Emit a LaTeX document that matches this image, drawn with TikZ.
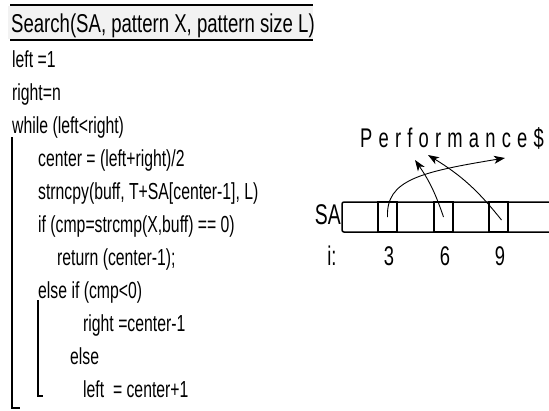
\documentclass[tikz,border=0pt]{standalone}
\usepackage{fontspec}
\setmainfont[FakeStretch=0.68]{Liberation Sans}
\newfontfamily\headfont[FakeStretch=0.72]{Liberation Sans}
\newfontfamily\spacedfont[FakeStretch=0.68,LetterSpace=23]{Liberation Sans}
\usetikzlibrary{arrows.meta}
\tikzset{
  code/.style={anchor=base west, inner sep=0pt, font=\fontsize{23.2}{28}\selectfont},
  lbl/.style={inner sep=0pt, font=\fontsize{27}{30}\selectfont},
  cell/.style={draw, line width=1.5pt, minimum width=19pt, minimum height=30pt, inner sep=0pt},
  ptr/.style={line width=0.9pt, -{Stealth[length=11pt,width=8pt,inset=3pt]}}
}

\begin{document}
\begin{tikzpicture}[x=1pt,y=-1pt]
\useasboundingbox (0,0) rectangle (549,410);
% heading
\fill[black!5] (8,6) rectangle (313,39);
\draw[line width=1.5pt] (10,5) -- (313,5);
\draw[line width=1.5pt] (10,40) -- (313,40);
\node[code, font=\headfont\fontsize{25.8}{28}\selectfont] (title) at (11,32) {Search(SA, pattern X, pattern size L)};
% code lines
\node[code] (l1) at (12,67) {left =1};
\node[code] (l2) at (12,100) {right=n};
\node[code] (l3) at (12,133) {while (left<right)};
\node[code] (l4) at (38,166) {center = (left+right)/2};
\node[code] (l5) at (38,199) {strncpy(buff, T+SA[center-1], L)};
\node[code] (l6) at (38,232) {if (cmp=strcmp(X,buff) == 0)};
\node[code] (l7) at (57,265) {return (center-1);};
\node[code] (l8) at (38,298) {else if (cmp<0)};
\node[code] (l9) at (83,331) {right =center-1};
\node[code] (l10) at (70,364) {else};
\node[code] (l11) at (83,397) {left~ = center+1};
% block brackets
\draw[line width=1.5pt] (12,137) -- (12,408) -- (20,408);
\draw[line width=1.2pt] (38,300) -- (38,396) -- (43,396);
% suffix array
\draw[line width=1.5pt, rounded corners=2pt] (549,202) -- (342,202) -- (342,232) -- (549,232);
\foreach \i/\x in {3/387.5, 6/443.5, 9/498.5} {
  \node[cell] (c\i) at (\x,217) {};
  \node[lbl] (i\i) at (\x+1.5,256) {\i};
}
\node[lbl, font=\fontsize{28.5}{30}\selectfont, anchor=east] (sa) at (341,215) {SA};
\node[lbl] (ilbl) at (332,256) {i:};
\node[inner sep=0pt, font=\spacedfont\fontsize{27}{30}\selectfont] (word) at (452,138) {Performance\$};
\coordinate (t1) at (505,158);
\coordinate (t2) at (415,160);
\coordinate (t3) at (428,155);
\draw[ptr] (c3.center) .. controls (386,180) and (420,172) .. (t1);
\draw[ptr] (c6.center) to[bend right=8] (t2);
\draw[ptr] ([shift={(3,3)}]c9.center) to[bend right=10] (t3);
\end{tikzpicture}
\end{document}
